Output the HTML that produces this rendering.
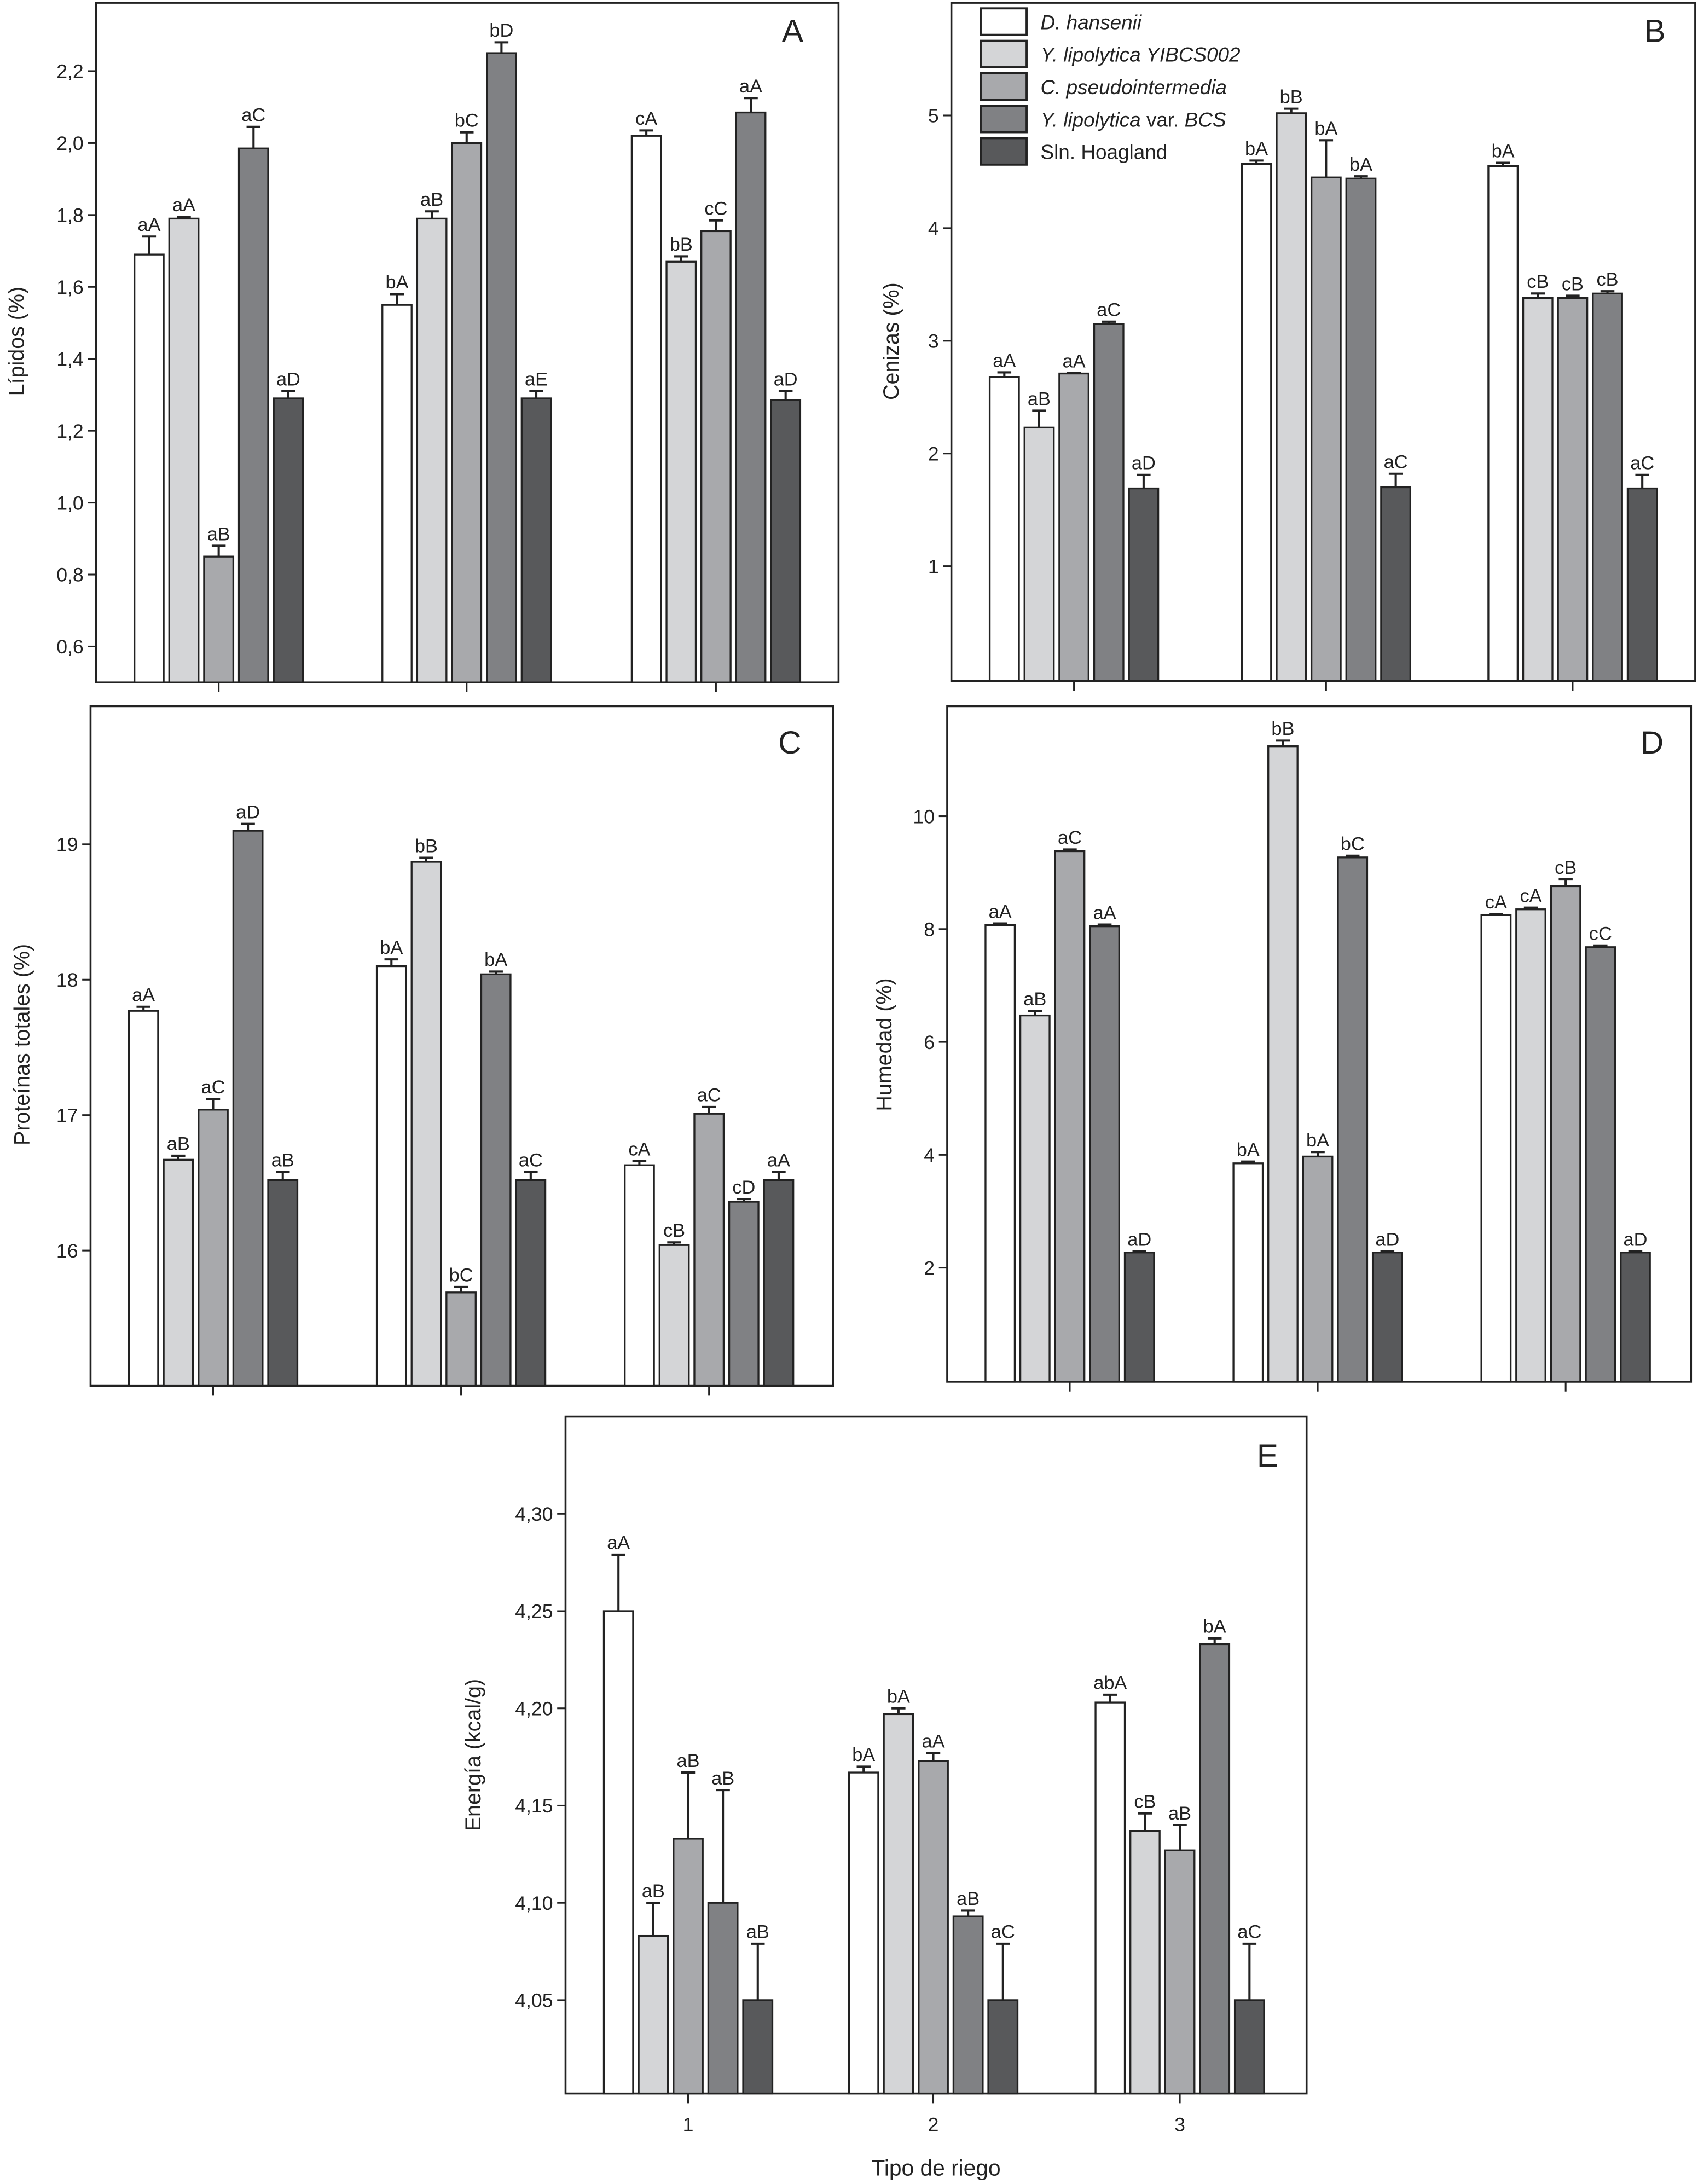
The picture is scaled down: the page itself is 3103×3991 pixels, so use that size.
<!DOCTYPE html>
<html><head><meta charset="utf-8"><style>
html,body{margin:0;padding:0;background:#fff}
svg{display:block}
text{font-family:"Liberation Sans",sans-serif;fill:#222}
</style></head><body>
<svg id="fig" xmlns="http://www.w3.org/2000/svg" width="3103" height="3991" viewBox="0 0 1219 1568" preserveAspectRatio="none"></svg>
<script>
const series = ["D. hansenii","Y. lipolytica YIBCS002","C. pseudointermedia","Y. lipolytica var. BCS","Sln. Hoagland"];
const categories = ["1","2","3"];
const valuesA = [[1.69,1.79,0.85,1.985,1.29],[1.55,1.79,2.0,2.25,1.29],[2.02,1.67,1.755,2.085,1.285]];
const errorsA = [[0.05,0.005,0.03,0.06,0.02],[0.03,0.02,0.03,0.03,0.02],[0.015,0.015,0.03,0.04,0.025]];
const lettersA = [["aA","aA","aB","aC","aD"],["bA","aB","bC","bD","aE"],["cA","bB","cC","aA","aD"]];
const ticksA = [0.6,0.8,1.0,1.2,1.4,1.6,1.8,2.0,2.2];
const tickLabelsA = ["0,6","0,8","1,0","1,2","1,4","1,6","1,8","2,0","2,2"];
const valuesB = [[2.68,2.23,2.71,3.15,1.69],[4.57,5.02,4.45,4.44,1.70],[4.55,3.38,3.38,3.42,1.69]];
const errorsB = [[0.04,0.15,0.005,0.02,0.12],[0.03,0.04,0.33,0.02,0.12],[0.03,0.04,0.02,0.02,0.12]];
const lettersB = [["aA","aB","aA","aC","aD"],["bA","bB","bA","bA","aC"],["bA","cB","cB","cB","aC"]];
const ticksB = [1,2,3,4,5];
const tickLabelsB = ["1","2","3","4","5"];
const valuesC = [[17.77,16.67,17.04,19.1,16.52],[18.1,18.87,15.69,18.04,16.52],[16.63,16.04,17.01,16.36,16.52]];
const errorsC = [[0.03,0.03,0.08,0.05,0.06],[0.05,0.03,0.04,0.02,0.06],[0.03,0.02,0.05,0.02,0.06]];
const lettersC = [["aA","aB","aC","aD","aB"],["bA","bB","bC","bA","aC"],["cA","cB","aC","cD","aA"]];
const ticksC = [16,17,18,19];
const tickLabelsC = ["16","17","18","19"];
const valuesD = [[8.07,6.47,9.38,8.05,2.27],[3.85,11.24,3.97,9.27,2.27],[8.25,8.35,8.76,7.68,2.27]];
const errorsD = [[0.03,0.08,0.03,0.03,0.02],[0.03,0.1,0.08,0.03,0.02],[0.02,0.03,0.12,0.03,0.02]];
const lettersD = [["aA","aB","aC","aA","aD"],["bA","bB","bA","bC","aD"],["cA","cA","cB","cC","aD"]];
const ticksD = [2,4,6,8,10];
const tickLabelsD = ["2","4","6","8","10"];
const valuesE = [[4.25,4.083,4.133,4.10,4.05],[4.167,4.197,4.173,4.093,4.05],[4.203,4.137,4.127,4.233,4.05]];
const errorsE = [[0.029,0.017,0.034,0.058,0.029],[0.003,0.003,0.004,0.003,0.029],[0.004,0.009,0.013,0.003,0.029]];
const lettersE = [["aA","aB","aB","aB","aB"],["bA","bA","aA","aB","aC"],["abA","cB","aB","bA","aC"]];
const ticksE = [4.05,4.10,4.15,4.20,4.25,4.30];
const tickLabelsE = ["4,05","4,10","4,15","4,20","4,25","4,30"];

const fills = ["#ffffff","#d4d5d7","#a8a9ac","#808184","#58595b"];
const NS = "http://www.w3.org/2000/svg";
const svg = document.getElementById("fig");
function mk(tag, attrs, parent){const e=document.createElementNS(NS,tag);for(const k in attrs)e.setAttribute(k,attrs[k]);(parent||svg).appendChild(e);return e;}

function panel(cfg){
  const g = mk("g",{});
  
  
  const yScale = v => cfg.y1 - (v - cfg.vmin)/(cfg.vmax - cfg.vmin)*(cfg.y1 - cfg.y0);
  const frame = mk("rect",{x:cfg.x0,y:cfg.y0,width:cfg.x1-cfg.x0,height:cfg.y1-cfg.y0,fill:"none",stroke:"#222","stroke-width":1.4},g);
  
  
  cfg.ticks.forEach((t,i)=>{
    const y = yScale(t);
    const tk = mk("line",{x1:cfg.x0-6,x2:cfg.x0,y1:y,y2:y,stroke:"#222","stroke-width":1.2},g);
    
    
    const tl = mk("text",{x:cfg.x0-9,y:y+5,"text-anchor":"end","font-size":14},g);
    tl.textContent = cfg.tickLabels[i];
    
    
  });
  const xScale = (gi, si) => cfg.centers[gi] + (si - 2)*25;
  categories.forEach((c,gi)=>{
    const xt = mk("line",{x1:cfg.centers[gi],x2:cfg.centers[gi],y1:cfg.y1,y2:cfg.y1+7,stroke:"#222","stroke-width":1.2},g);
    
    
    if(cfg.xlabels){
      const xl = mk("text",{x:cfg.centers[gi],y:cfg.y1+27,"text-anchor":"middle","font-size":14},g);
      xl.textContent = c;
      
      
    }
    series.forEach((s,si)=>{
      const v = cfg.values[gi][si], e = cfg.errors[gi][si];
      const cx = xScale(gi,si), top = yScale(v), et = yScale(v+e);
      const bar = mk("rect",{x:cx-10.5,y:top,width:21,height:cfg.y1-top,fill:fills[si],stroke:"#222","stroke-width":1.3},g);
      
      
      const el = mk("path",{d:`M${cx},${top}V${et}M${cx-5},${et}H${cx+5}`,stroke:"#222","stroke-width":1.6,fill:"none"},g);
      
      
      const lt = mk("text",{x:cx,y:et-4,"text-anchor":"middle","font-size":13.5},g);
      lt.textContent = cfg.letters[gi][si];
      
      
    });
  });
  const pl = mk("text",{x:cfg.lx,y:cfg.ly,"text-anchor":"middle","font-size":23},g);
  pl.textContent = cfg.letter;
  
  
  const yt = mk("text",{x:cfg.tx,y:cfg.ty,"text-anchor":"middle","font-size":15.5,transform:`rotate(-90 ${cfg.tx} ${cfg.ty})`},g);
  yt.textContent = cfg.title;
  
  
}

panel({letter:"A",x0:69,x1:602,y0:2,y1:490,vmin:0.5,vmax:2.39,centers:[157,335,514],values:valuesA,errors:errorsA,letters:lettersA,ticks:ticksA,tickLabels:tickLabelsA,lx:569,ly:30,tx:17,ty:245,title:"Lípidos (%)"});
panel({letter:"B",x0:683,x1:1217,y0:2,y1:489,vmin:-0.02,vmax:6.0,centers:[771,952,1129],values:valuesB,errors:errorsB,letters:lettersB,ticks:ticksB,tickLabels:tickLabelsB,lx:1188,ly:30,tx:645,ty:245,title:"Cenizas (%)"});
panel({letter:"C",x0:65,x1:598,y0:507,y1:995,vmin:15.0,vmax:20.02,centers:[153,331,509],values:valuesC,errors:errorsC,letters:lettersC,ticks:ticksC,tickLabels:tickLabelsC,lx:567,ly:541,tx:21,ty:750,title:"Proteínas totales (%)"});
panel({letter:"D",x0:680,x1:1214,y0:507,y1:992,vmin:-0.02,vmax:11.95,centers:[768,946,1124],values:valuesD,errors:errorsD,letters:lettersD,ticks:ticksD,tickLabels:tickLabelsD,lx:1186,ly:541,tx:640,ty:750,title:"Humedad (%)"});
panel({letter:"E",x0:406,x1:938,y0:1017,y1:1503,vmin:4.002,vmax:4.35,centers:[494,670,847],values:valuesE,errors:errorsE,letters:lettersE,ticks:ticksE,tickLabels:tickLabelsE,lx:910,ly:1053,tx:345,ty:1260,title:"Energía (kcal/g)",xlabels:true});

const xt = mk("text",{x:672,y:1562,"text-anchor":"middle","font-size":16});
xt.textContent = "Tipo de riego";



const leg = mk("g",{});


series.forEach((s,i)=>{
  const y = 6 + i*23.3;
  const r = mk("rect",{x:704,y:y,width:33,height:19,fill:fills[i],stroke:"#222","stroke-width":1.5},leg);
  
  
  const t = mk("text",{x:747,y:y+15,"font-size":14.5},leg);
  if(i===4){ t.textContent = s; }
  else if(i===3){ const a=mk("tspan",{"font-style":"italic"},t); a.textContent="Y. lipolytica"; const b=mk("tspan",{},t); b.textContent=" var. "; const c=mk("tspan",{"font-style":"italic"},t); c.textContent="BCS"; }
  else { t.setAttribute("font-style","italic"); t.textContent = s; }
  
  
});
</script>
</body></html>
